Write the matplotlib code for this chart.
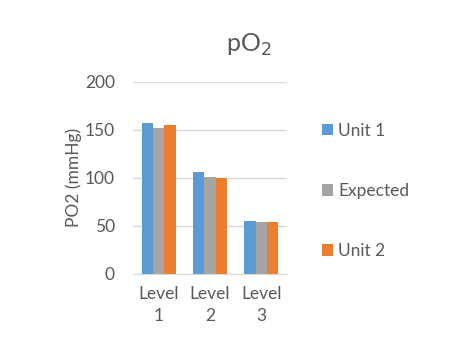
import numpy as np
import matplotlib.pyplot as plt

plt.rcParams['font.family'] = ['Lato', 'DejaVu Sans']

levels = ['Level\n1', 'Level\n2', 'Level\n3']
unit1 = [157, 106, 55]
expected = [152, 101, 54]
unit2 = [155, 100, 54]
series = ['Unit 1', 'Expected', 'Unit 2']
colors = ['#5B9BD5', '#A5A5A5', '#ED7D31']
txt = '#595959'

fig = plt.figure(figsize=(4.6, 3.44), dpi=100)
ax = fig.add_axes([0.289, 0.204, 0.335, 0.558])

x = np.arange(len(levels))
w = 0.222
for i, (vals, name) in enumerate(zip([unit1, expected, unit2], series)):
    ax.bar(x + (i - 1) * w, vals, w, color=colors[i], label=name, zorder=3)

ax.set_ylim(0, 200)
ax.set_xlim(-0.5, 2.5)
ax.set_yticks([0, 50, 100, 150, 200])
ax.set_xticks(x)
ax.set_xticklabels(levels, linespacing=1.4)
ax.grid(axis='y', color='#d9d9d9', linewidth=1, zorder=0)
for s in ['top', 'right', 'left']:
    ax.spines[s].set_visible(False)
ax.spines['bottom'].set_color('#d9d9d9')
ax.spines['bottom'].set_zorder(4)
ax.tick_params(length=0, labelsize=12.5, colors=txt)
ax.tick_params(axis='y', pad=13)
ax.tick_params(axis='x', pad=9)
ax.set_ylabel('PO2 (mmHg)', fontsize=12.5, color=txt, labelpad=2)

fig.text(0.54, 0.87, r'pO$_2$', fontsize=18, color=txt, ha='center', va='center')

leg = fig.legend(loc='center left', bbox_to_anchor=(0.665, 0.445), frameon=False,
                 fontsize=12.5, labelspacing=2.55, handlelength=0.65, handleheight=0.65,
                 handletextpad=0.3)
for t in leg.get_texts():
    t.set_color(txt)

fig.savefig('out.png', dpi=100)
